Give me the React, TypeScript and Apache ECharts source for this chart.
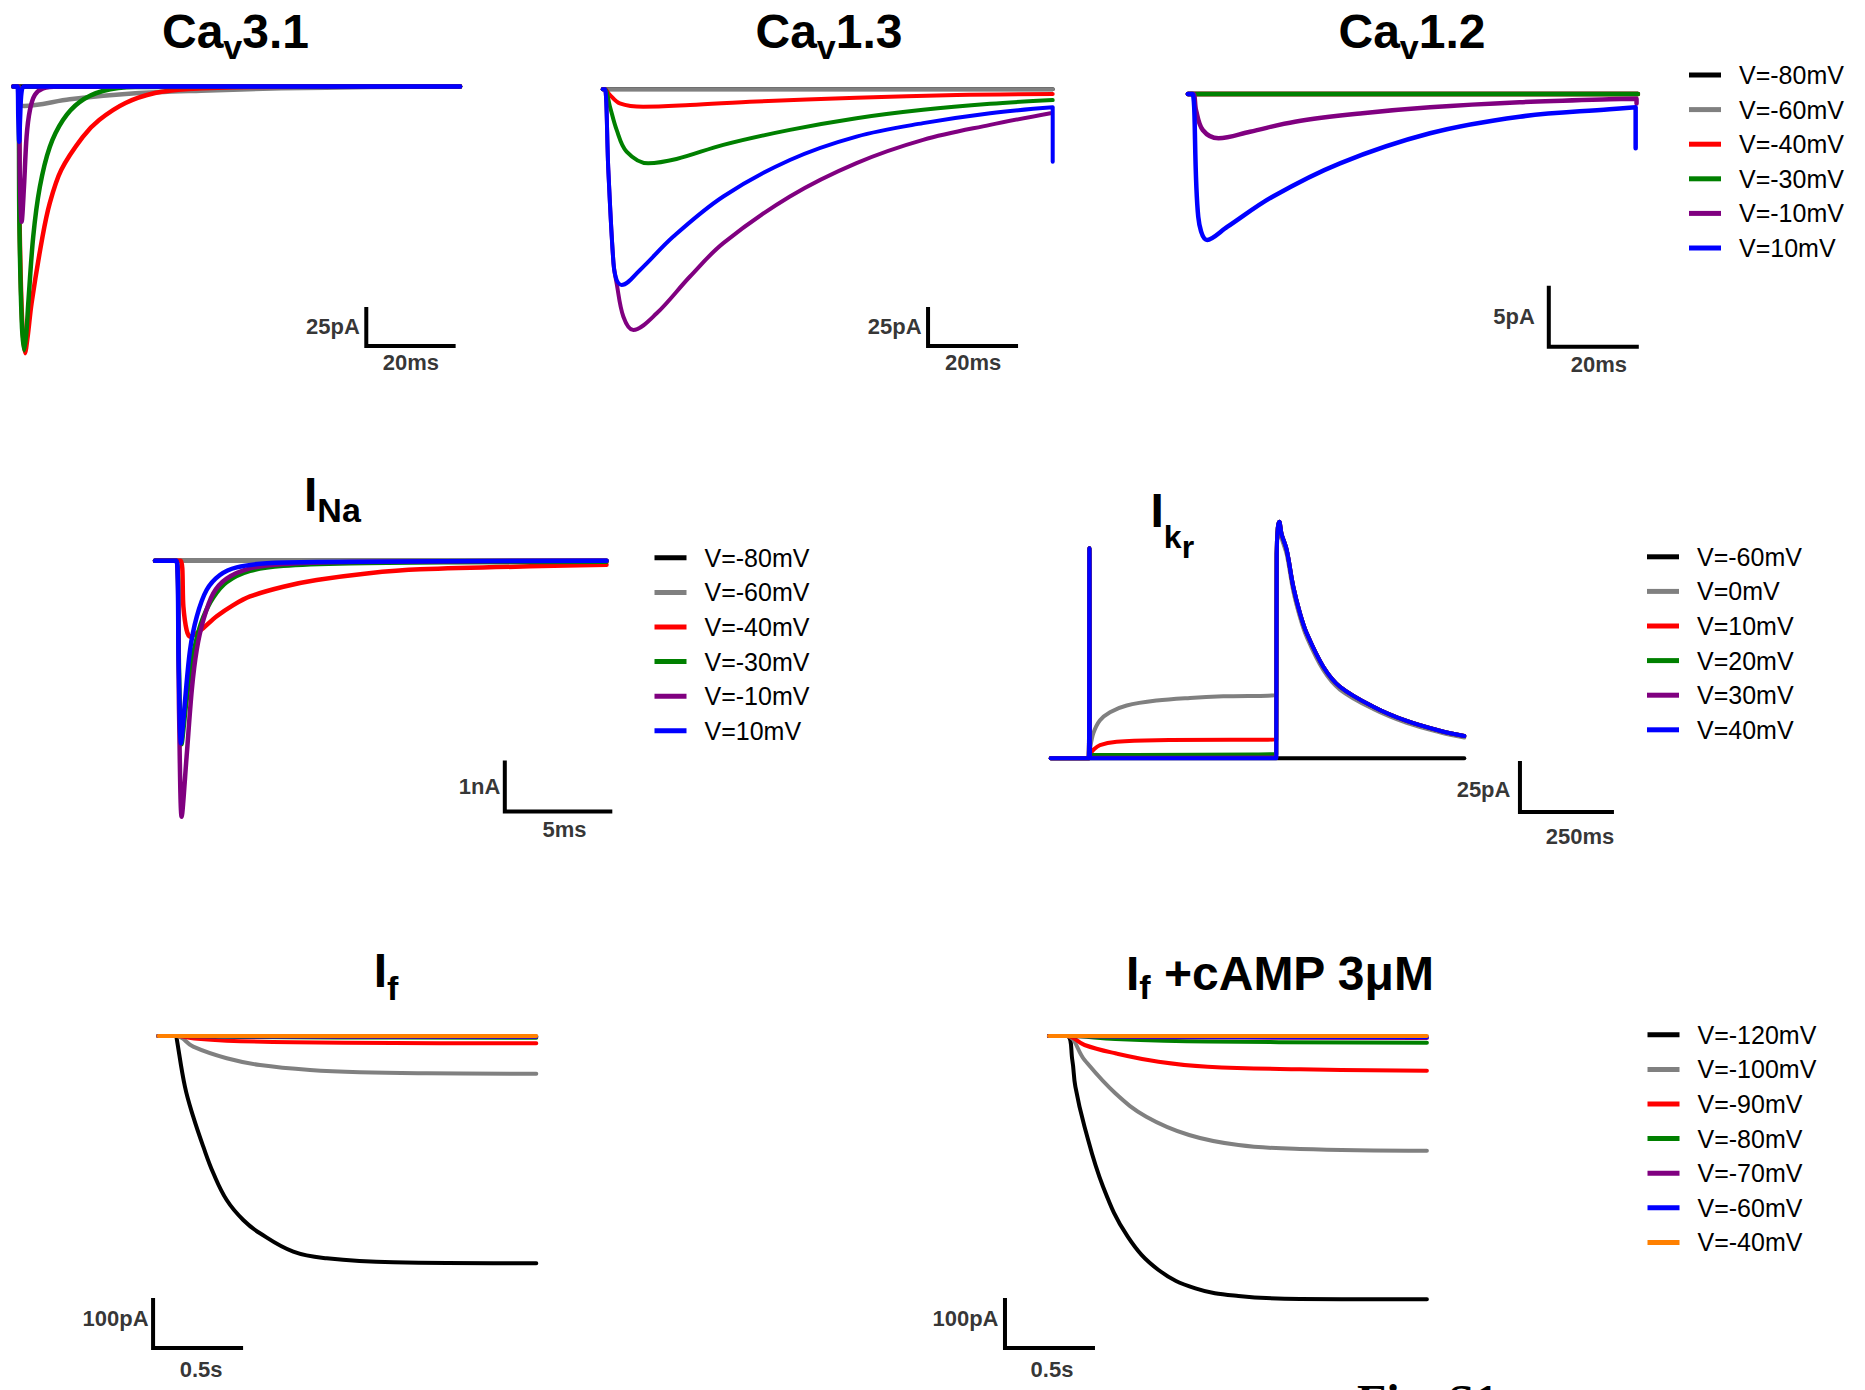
import React, { useEffect, useRef } from "react";
import * as echarts from "echarts";

// ================= DATA =================
// Legend / series names
const legendCa = ["V=-80mV", "V=-60mV", "V=-40mV", "V=-30mV", "V=-10mV", "V=10mV"];
const legendKr = ["V=-60mV", "V=0mV", "V=10mV", "V=20mV", "V=30mV", "V=40mV"];
const legendIf = ["V=-120mV", "V=-100mV", "V=-90mV", "V=-80mV", "V=-70mV", "V=-60mV", "V=-40mV"];

// Cav3.1 (ms, pA)
const cav31M80 = [[0, 0], [100, 0]];
const cav31M60 = [[0, 0], [1.1, 0], [1.6, -12], [2.4, -12.5], [12.6, -8.2], [27.3, -4.4], [42, -2.7], [60, -1.2], [80, -0.4], [100, 0]];
const cav31M40 = [[0, 0], [1.1, 0], [1.4, -90], [1.95, -150], [2.6, -171], [3.2, -160], [4.06, -139], [6.5, -96.5], [8.14, -74.7], [10.7, -53.5], [15.5, -32.4], [19.2, -21.5], [25.1, -10.6], [31.7, -4.2], [39.2, -1.6], [53, -0.3], [100, 0]];
const cav31M30 = [[0, 0], [1.1, 0], [1.33, -85.6], [1.85, -149.7], [2.38, -169], [2.9, -158], [3.33, -139], [4.43, -96.5], [5.92, -64.4], [8.14, -38.8], [11.1, -21.5], [14.8, -10], [20, -2.9], [27.3, -0.3], [100, 0]];
const cav31M10 = [[0, 0], [1.1, 0], [1.45, -60], [1.85, -86.7], [2.37, -64.2], [2.95, -32.2], [3.7, -15.1], [4.81, -5.4], [6.65, -1.2], [10, 0], [100, 0]];
const cav31P10 = [[0, 0], [0.9, 0], [1.1, -20], [1.3, -35.4], [1.5, -20], [1.8, -4], [2.4, 0], [100, 0]];

// Cav1.3 (ms, pA)
const cav13M80 = [[0, 0], [100, 0]];
const cav13M60 = [[0, 0], [100, 0]];
const cav13M40 = [[0, 0], [0.5, 0], [1.6, -3.6], [3.8, -9.0], [9, -11.2], [19.4, -10.1], [34.2, -7.8], [56.4, -5.4], [78.7, -3.6], [100, -3.0]];
const cav13M30 = [[0, 0], [0.5, 0], [1.6, -11], [3.1, -26], [5.3, -39.9], [10.1, -47.4], [16.4, -44.7], [26.8, -35.6], [41.6, -26], [56.4, -18.5], [71.2, -13.1], [86.1, -9.3], [100, -6.9]];
const cav13M10 = [[0, 0], [0.5, 0], [1.25, -51.7], [2.4, -111.5], [3.1, -124.4], [4.6, -145.8], [6.8, -154.3], [12, -143.6], [19.4, -120], [26.8, -98.6], [41.6, -68.7], [56.4, -47.3], [71.2, -32.4], [86.1, -22.8], [99.5, -15.3]];
const cav13P10 = [[0, 0], [0.5, 0], [1.25, -51.7], [2.4, -111.5], [3.1, -122.2], [4.2, -125.4], [8.3, -115.8], [15.7, -94.4], [26.8, -68.7], [41.6, -45.3], [56.4, -30.3], [71.2, -21.7], [86.1, -15.3], [100, -11.5], [100, -46.4]];

// Cav1.2 (ms, pA)
const cav12M80 = [[0, 0], [100, 0]];
const cav12M60 = [[0, 0], [100, 0]];
const cav12M40 = [[0, 0], [100, 0]];
const cav12M30 = [[0, 0], [100, 0]];
const cav12M10 = [[0, 0], [1.2, 0], [1.8, -1.31], [3.3, -2.95], [6.8, -3.63], [13.8, -3.09], [23.8, -2.27], [38.8, -1.58], [53.8, -1.09], [73.7, -0.68], [93.7, -0.43], [99.7, -0.39], [99.7, -0.77]];
const cav12P10 = [[0, 0], [1.0, 0], [2.3, -10.06], [4.3, -11.97], [8.8, -10.88], [18.8, -8.42], [33.8, -5.68], [53.8, -3.22], [73.7, -1.86], [93.7, -1.25], [99.5, -1.09], [99.5, -4.45]];

// INa (ms, nA)
const inaM80 = [[0, 0], [21, 0]];
const inaM60 = [[0, 0], [21, 0]];
const inaM40 = [[0, 0], [1.2, 0], [1.32, -0.9], [1.47, -1.36], [1.63, -1.49], [1.94, -1.42], [2.25, -1.32], [2.87, -1.09], [3.64, -0.87], [4.42, -0.7], [5.97, -0.51], [7.52, -0.38], [9.85, -0.25], [12.33, -0.17], [21, -0.08]];
const inaM30 = [[0, 0], [1.0, 0], [1.12, -2.2], [1.23, -3.6], [1.45, -2.8], [1.7, -2.0], [1.95, -1.5], [2.25, -1.1], [2.71, -0.72], [3.33, -0.42], [4.42, -0.2], [5.97, -0.1], [9.07, -0.05], [14, -0.03], [21, -0.02]];
const inaM10 = [[0, 0], [1.0, 0], [1.12, -3.0], [1.24, -5.02], [1.47, -3.84], [1.71, -2.54], [1.94, -1.75], [2.25, -1.16], [2.71, -0.64], [3.33, -0.35], [4.42, -0.15], [5.97, -0.065], [9.07, -0.025], [21, 0]];
const inaP10 = [[0, 0], [1.0, 0], [1.1, -2.0], [1.21, -3.58], [1.4, -2.73], [1.63, -1.75], [1.94, -1.1], [2.4, -0.575], [3.02, -0.28], [3.8, -0.13], [5.2, -0.05], [7.52, -0.025], [21, 0]];

// IKr (ms, pA)
const ikrTail = [[601, 100], [604, 113], [608, 116], [614, 110], [627.7, 102.1], [645.2, 84.1], [663, 71.1], [680.9, 61.3], [725, 44.9], [769.4, 35.1], [858, 25.3], [946.8, 18.3], [1035, 13.5], [1100, 10.9]];
const ikrTailGray = [[601, 98], [604, 111], [608, 114], [614, 108], [627.7, 100], [645.2, 82], [663, 69.2], [680.9, 59.5], [725, 43.3], [769.4, 33.7], [858, 24.2], [946.8, 17.4], [1035, 12.8], [1100, 10.2]];
const ikrM60 = [[0, 0], [1100, 0]];
const ikr0 = [[0, 0], [101, 0], [103, 103], [105, 5], [113.3, 12.2], [131.1, 18.6], [157.7, 22.6], [202.1, 25.9], [281.9, 28.3], [370.5, 29.6], [459, 30.4], [600, 31.1], ...ikrTailGray];
const ikr10 = [[0, 0], [101, 0], [103, 103], [105, 2], [113.3, 4.1], [131.1, 6.5], [175.5, 8.1], [281.9, 8.9], [600, 9.2], ...ikrTail];
const ikr20 = [[0, 0], [101, 0], [103, 103], [105, 1], [113.3, 1.6], [600, 2.1], ...ikrTail];
const ikr30 = [[0, 0], [101, 0], [103, 103], [105, 0.3], [600, 0.4], ...ikrTail];
const ikr40 = [[0, 0], [101, 0], [103, 103], [105, 0], [600, 0], ...ikrTail];

// If (s, pA)
const ifM120 = [[0, 0], [0.1, 0], [0.102, -4.6], [0.148, -101.4], [0.194, -161.4], [0.25, -221.4], [0.306, -274.6], [0.38, -328], [0.472, -368], [0.565, -394.6], [0.75, -431.4], [0.936, -444.6], [1.306, -452.6], [2.1, -454.6]];
const ifM100 = [[0, 0], [0.1, 0], [0.194, -21.4], [0.38, -44.6], [0.565, -58], [0.843, -68], [1.12, -72.6], [1.491, -74.6], [2.1, -75.4]];
const ifM90 = [[0, 0], [0.1, 0], [0.2, -5], [0.38, -9.4], [0.75, -12.6], [1.306, -14], [2.1, -14.6]];
const ifM80 = [[0, 0], [0.1, 0], [0.5, -2], [1.0, -3], [2.1, -3.4]];
const ifM70 = [[0, 0], [0.1, 0], [0.6, -1.2], [2.1, -1.6]];
const ifM60 = [[0, 0], [0.1, 0], [0.6, -0.6], [2.1, -0.8]];
const ifM40 = [[0, 0], [2.1, 0]];

// If + cAMP 3uM (s, pA)
const ifcM120 = [[0, 0], [0.1, 0], [0.13, -48], [0.147, -101.4], [0.198, -181.4], [0.301, -301.4], [0.438, -401.4], [0.609, -468], [0.814, -504.6], [1.053, -520], [1.395, -526], [2.1, -526.6]];
const ifcM100 = [[0, 0], [0.1, 0], [0.198, -48], [0.369, -114.6], [0.541, -161.4], [0.779, -198], [1.053, -218], [1.395, -226], [2.1, -229.4]];
const ifcM90 = [[0, 0], [0.1, 0], [0.198, -18], [0.369, -34.6], [0.609, -51.4], [0.882, -61.4], [1.395, -66.6], [2.1, -69.4]];
const ifcM80 = [[0, 0], [0.1, 0], [0.369, -6], [0.882, -11], [2.1, -13.4]];
const ifcM70 = [[0, 0], [0.1, 0], [0.6, -2.5], [2.1, -4]];
const ifcM60 = [[0, 0], [0.1, 0], [0.6, -1.2], [2.1, -2]];
const ifcM40 = [[0, 0], [2.1, 0]];

// Scale bars (data units: top of vertical bar, corner, end of horizontal bar) and their labels
const cav31Bar = [[79, -141.3], [79, -166.3], [99, -166.3]];
const cav13Bar = [[72.3, -139.6], [72.3, -164.6], [92.3, -164.6]];
const cav12Bar = [[80.2, -15.71], [80.2, -20.71], [100.2, -20.71]];
const inaBar = [[16.27, -3.92], [16.27, -4.92], [21.27, -4.92]];
const ikrBar = [[1248, -1.3], [1248, -26.3], [1498, -26.3]];
const ifBar = [[-0.029, -524], [-0.029, -624], [0.471, -624]];
const ifcBar = [[-0.244, -524], [-0.244, -624], [0.256, -624]];

const cav31BarText = ["25pA", "20ms"];
const cav13BarText = ["25pA", "20ms"];
const cav12BarText = ["5pA", "20ms"];
const inaBarText = ["1nA", "5ms"];
const ikrBarText = ["25pA", "250ms"];
const ifBarText = ["100pA", "0.5s"];
const ifcBarText = ["100pA", "0.5s"];

// ================= STYLE =================
const FONT = '"Liberation Sans", Arial, Helvetica, sans-serif';
const C6 = ["#000000", "#808080", "#ff0000", "#008000", "#800080", "#0000ff"];
const C7 = [...C6, "#ff8000"];

type Geom = { x0: number; sx: number; y0: number; sy: number; xr: number[]; yr: number[] };

const panels = [
  { geom: { x0: 10, sx: 4.5, y0: 86.5, sy: 1.56, xr: [-3, 103], yr: [-180, 6] }, traces: [cav31M80, cav31M60, cav31M40, cav31M30, cav31M10, cav31P10], names: legendCa, colors: C6, lw: 4.5, sm: 0.3, bar: cav31Bar, barText: cav31BarText, vl: { d: 6, off: [0, 0] }, hl: { d: 4.6, off: [0, 0] } },
  { geom: { x0: 602.7, sx: 4.5, y0: 89.3, sy: 1.56, xr: [-3, 103], yr: [-175, 6] }, traces: [cav13M80, cav13M60, cav13M40, cav13M30, cav13M10, cav13P10], names: legendCa, colors: C6, lw: 4, sm: 0.35, bar: cav13Bar, barText: cav13BarText, vl: { d: 6, off: [0, 0] }, hl: { d: 4.6, off: [0, 0] } },
  { geom: { x0: 1187.9, sx: 4.5, y0: 94, sy: 12.2, xr: [-3, 103], yr: [-22, 1] }, traces: [cav12M80, cav12M60, cav12M40, cav12M30, cav12M10, cav12P10], names: legendCa, colors: C6, lw: 4.5, sm: 0.35, bar: cav12Bar, barText: cav12BarText, vl: { d: 13.5, off: [0, 0] }, hl: { d: 6.3, off: [5, 0] } },
  { geom: { x0: 155, sx: 21.5, y0: 560.7, sy: 51, xr: [-1, 22], yr: [-5.5, 0.3] }, traces: [inaM80, inaM60, inaM40, inaM30, inaM10, inaP10], names: legendCa, colors: C6, lw: 4.5, sm: 0.3, bar: inaBar, barText: inaBarText, vl: { d: 4, off: [0, 0] }, hl: { d: 6.3, off: [6, 0] } },
  { geom: { x0: 1050.7, sx: 0.376, y0: 758.3, sy: 2.04, xr: [-20, 1520], yr: [-30, 125] }, traces: [ikrM60, ikr0, ikr10, ikr20, ikr30, ikr40], names: legendKr, colors: C6, lw: 4, sm: 0.35, bar: ikrBar, barText: ikrBarText, vl: { d: 9, off: [0, 3.5] }, hl: { d: 13.5, off: [13, 0] } },
  { geom: { x0: 158.3, sx: 180, y0: 1036, sy: 0.5, xr: [-0.1, 2.2], yr: [-640, 10] }, traces: [ifM120, ifM100, ifM90, ifM80, ifM70, ifM60, ifM40], names: legendIf, colors: C7, lw: 4, sm: 0.4, bar: ifBar, barText: ifBarText, vl: { d: 4, off: [0, -5] }, hl: { d: 10, off: [3, 0] } },
  { geom: { x0: 1048.9, sx: 180, y0: 1036, sy: 0.5, xr: [-0.3, 2.2], yr: [-640, 10] }, traces: [ifcM120, ifcM100, ifcM90, ifcM80, ifcM70, ifcM60, ifcM40], names: legendIf, colors: C7, lw: 4, sm: 0.4, bar: ifcBar, barText: ifcBarText, vl: { d: 6, off: [0, -5] }, hl: { d: 10, off: [2, 0] } },
];

type Part = { text: string; size: number; base: number };
const titles: { left: number; parts: Part[] }[] = [
  { left: 162, parts: [{ text: "Ca", size: 48, base: 48.3 }, { text: "v", size: 34, base: 58.3 }, { text: "3.1", size: 48, base: 48.3 }] },
  { left: 755.5, parts: [{ text: "Ca", size: 48, base: 48.3 }, { text: "v", size: 34, base: 58.3 }, { text: "1.3", size: 48, base: 48.3 }] },
  { left: 1338.5, parts: [{ text: "Ca", size: 48, base: 48.3 }, { text: "v", size: 34, base: 58.3 }, { text: "1.2", size: 48, base: 48.3 }] },
  { left: 304, parts: [{ text: "I", size: 48, base: 511 }, { text: "Na", size: 34, base: 521.7 }] },
  { left: 1150.5, parts: [{ text: "I", size: 48, base: 527 }, { text: "k", size: 32, base: 548 }, { text: "r", size: 32, base: 558 }] },
  { left: 373.7, parts: [{ text: "I", size: 48, base: 986.7 }, { text: "f", size: 34, base: 1000 }] },
  { left: 1126, parts: [{ text: "I", size: 48, base: 990 }, { text: "f", size: 34, base: 999 }, { text: " +cAMP 3μM", size: 48, base: 990 }] },
];

function buildTitleElements() {
  const canvas = document.createElement("canvas");
  const ctx = canvas.getContext("2d") as CanvasRenderingContext2D;
  const els: any[] = [];
  titles.forEach((t) => {
    let x = t.left;
    t.parts.forEach((p) => {
      ctx.font = `bold ${p.size}px ${FONT}`;
      els.push({
        type: "text",
        x,
        y: p.base - 0.3465 * p.size,
        silent: true,
        style: {
          text: p.text,
          fontSize: p.size,
          fontWeight: "bold",
          fontFamily: FONT,
          fill: "#000",
          align: "left",
          verticalAlign: "middle",
          textAlign: "left",
          textVerticalAlign: "middle",
        },
      });
      x += ctx.measureText(p.text).width;
    });
  });
  els.push({
    type: "text",
    x: 1357,
    y: 1401,
    silent: true,
    style: {
      text: "Fig. S1",
      fontSize: 48,
      fontWeight: "bold",
      fontFamily: '"Liberation Serif", "Times New Roman", serif',
      fill: "#000",
      align: "left",
      verticalAlign: "middle",
      textAlign: "left",
      textVerticalAlign: "middle",
    },
  });
  return els;
}

function legendFor(names: string[], colors: string[], left: number, top: number) {
  return {
    orient: "vertical",
    left,
    top,
    padding: 0,
    itemGap: 9.6,
    itemWidth: 32,
    itemHeight: 5,
    icon: "rect",
    selectedMode: false,
    textStyle: { fontSize: 25, fontFamily: FONT, color: "#000", lineHeight: 25, padding: [0, 0, 0, 13] },
    data: names.map((n, i) => ({ name: n, itemStyle: { color: colors[i], borderWidth: 0 } })),
  };
}

function buildOption() {
  const grid: any[] = [];
  const xAxis: any[] = [];
  const yAxis: any[] = [];
  const series: any[] = [];
  panels.forEach((p, i) => {
    const g: Geom = p.geom;
    grid.push({
      left: g.x0 + g.xr[0] * g.sx,
      width: (g.xr[1] - g.xr[0]) * g.sx,
      top: g.y0 - g.yr[1] * g.sy,
      height: (g.yr[1] - g.yr[0]) * g.sy,
      show: false,
    });
    xAxis.push({ type: "value", gridIndex: i, min: g.xr[0], max: g.xr[1], show: false });
    yAxis.push({ type: "value", gridIndex: i, min: g.yr[0], max: g.yr[1], show: false });
    p.traces.forEach((d, j) => {
      series.push({
        type: "line",
        name: p.names[j],
        xAxisIndex: i,
        yAxisIndex: i,
        data: d,
        symbol: "none",
        showSymbol: false,
        smooth: p.sm,
        clip: false,
        silent: true,
        color: p.colors[j],
        itemStyle: { color: p.colors[j] },
        lineStyle: { color: p.colors[j], width: p.lw, cap: "round", join: "round" },
      });
    });
    // scale bar
    series.push({
      type: "line",
      xAxisIndex: i,
      yAxisIndex: i,
      data: p.bar,
      symbol: "none",
      showSymbol: false,
      clip: false,
      silent: true,
      lineStyle: { color: "#000", width: 4, join: "miter", cap: "butt" },
    });
    const b = p.bar;
    series.push({
      type: "scatter",
      xAxisIndex: i,
      yAxisIndex: i,
      symbolSize: 1,
      silent: true,
      clip: false,
      itemStyle: { color: "rgba(0,0,0,0)" },
      data: [
        {
          value: [b[0][0], (b[0][1] + b[1][1]) / 2],
          label: { show: true, position: "left", distance: p.vl.d, offset: p.vl.off, formatter: p.barText[0] },
        },
        {
          value: [(b[1][0] + b[2][0]) / 2, b[1][1]],
          label: { show: true, position: "bottom", distance: p.hl.d, offset: p.hl.off, formatter: p.barText[1] },
        },
      ],
      label: { color: "#000", fontSize: 22, fontWeight: "bold", fontFamily: FONT },
    });
  });

  return {
    animation: false,
    backgroundColor: "#ffffff",
    grid,
    xAxis,
    yAxis,
    legend: [
      legendFor(legendCa, C6, 1689, 62.5),
      legendFor(legendCa, C6, 654.5, 545.3),
      legendFor(legendKr, C6, 1647, 544.3),
      legendFor(legendIf, C7, 1647.5, 1022.3),
    ],
    graphic: buildTitleElements(),
    series,
  };
}

export default function App() {
  const ref = useRef<HTMLDivElement>(null);
  useEffect(() => {
    if (!ref.current) return;
    const chart = echarts.init(ref.current, undefined, { renderer: "svg" });
    chart.setOption(buildOption() as any);
    return () => chart.dispose();
  }, []);
  return (
    <div
      ref={ref}
      style={{ position: "fixed", left: 0, top: 0, width: 1865, height: 1390, background: "#fff" }}
    />
  );
}
